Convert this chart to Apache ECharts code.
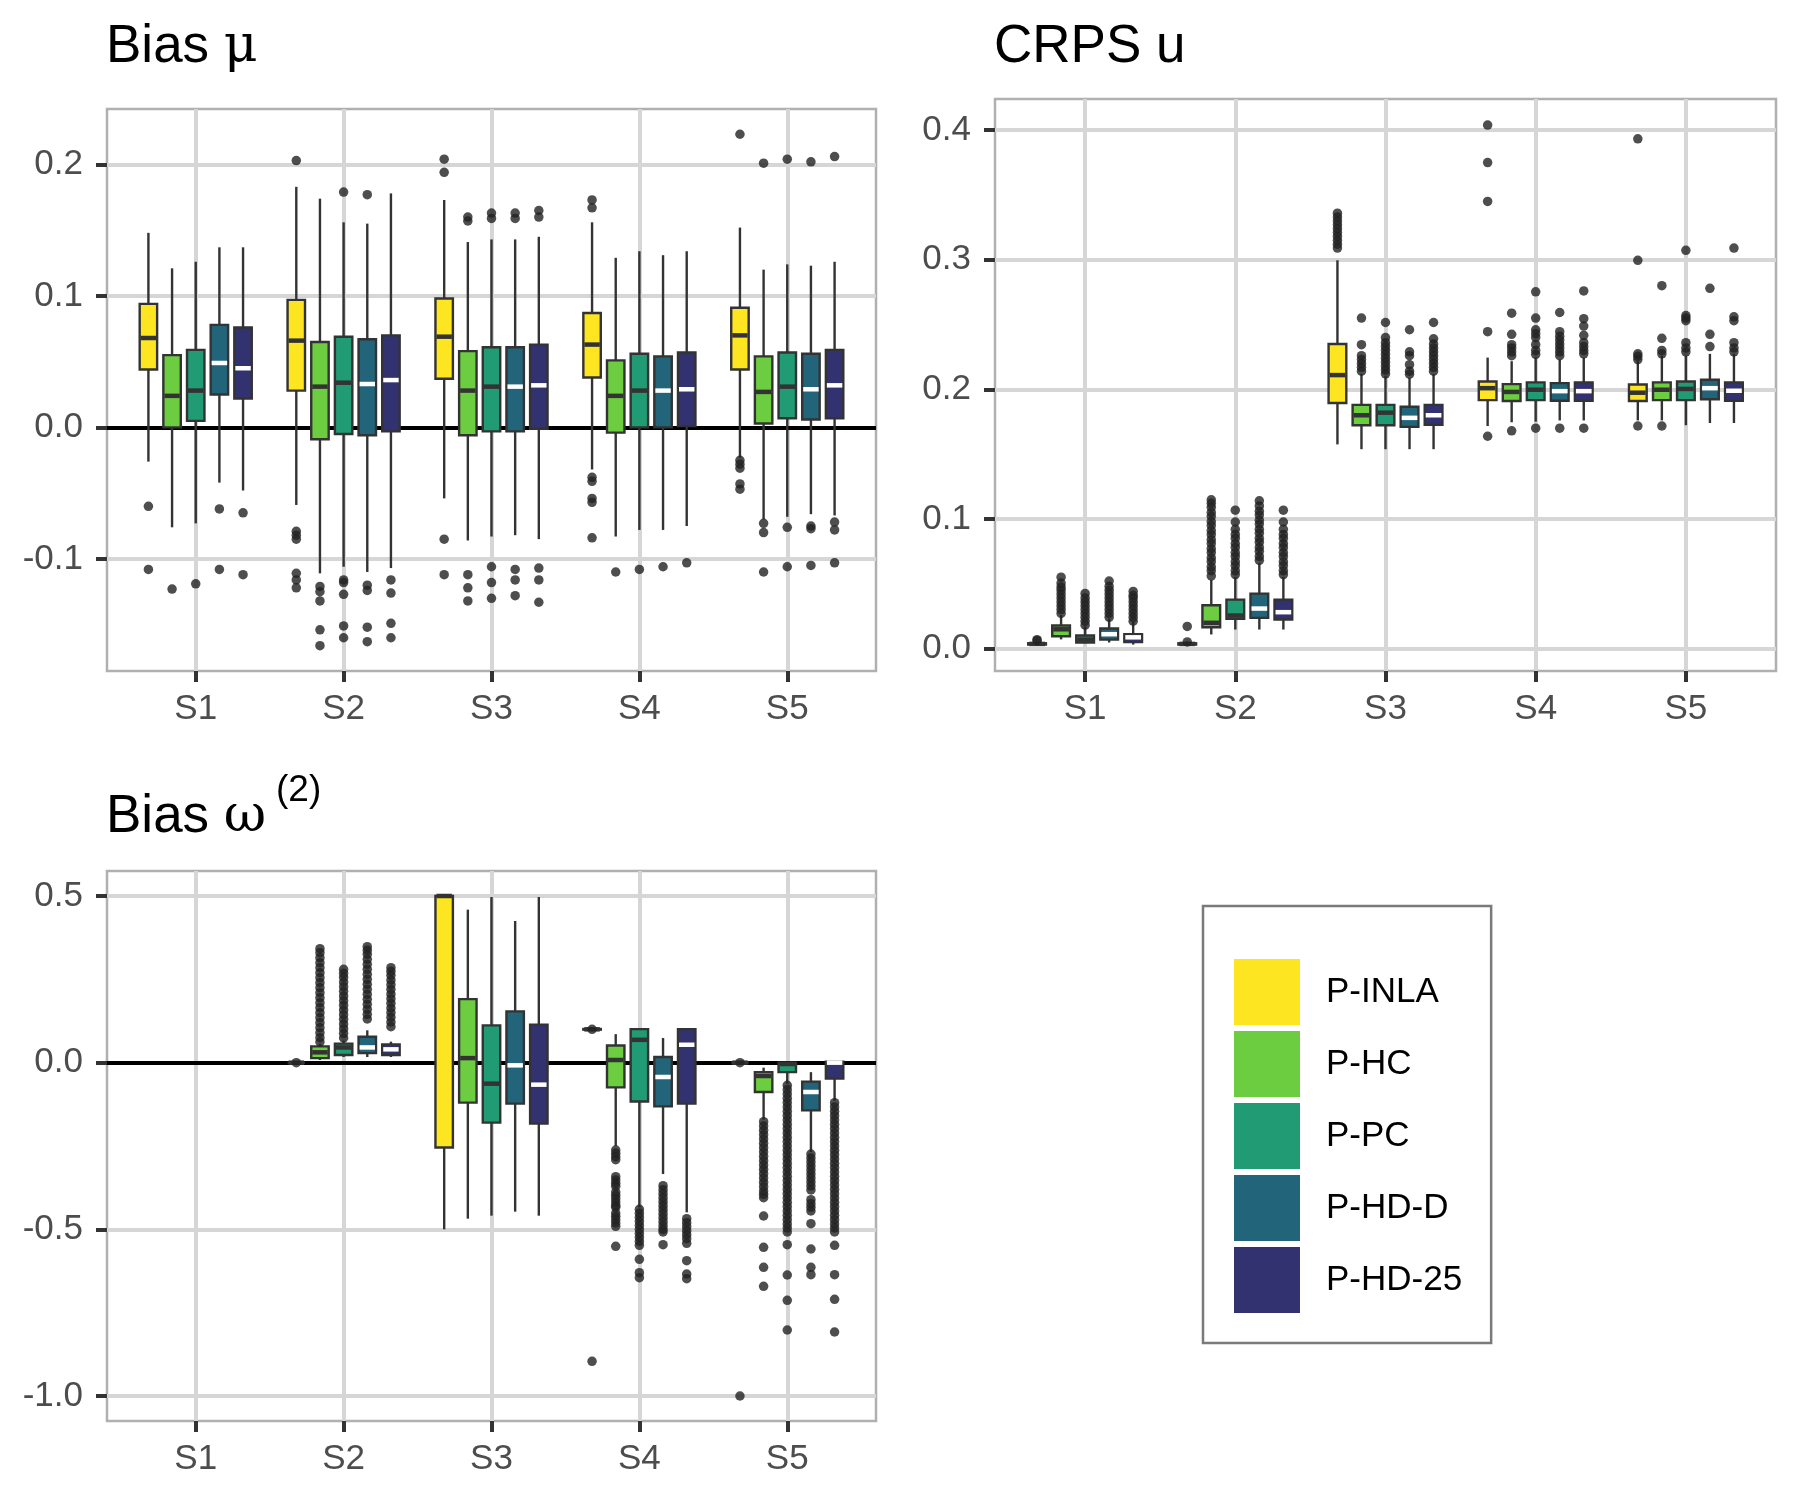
<!DOCTYPE html>
<html>
<head>
<meta charset="utf-8">
<script src="https://cdn.jsdelivr.net/npm/echarts@6/dist/echarts.min.js"></script>
<style>
  html, body { margin: 0; padding: 0; background: #fff; }
  #main { width: 1800px; height: 1500px; }
</style>
</head>
<body>
<div id="main"></div>
<script>
// categories and methods
var scenarios = ['S1', 'S2', 'S3', 'S4', 'S5'];
var methods = ['P-INLA', 'P-HC', 'P-PC', 'P-HD-D', 'P-HD-25'];
var methodColors = ['#FDE621', '#6CCD40', '#209B73', '#22647A', '#333270'];
var medianColors = ['#333333', '#333333', '#333333', '#ffffff', '#ffffff'];

// tick values
var biasMuTicks = [-0.1, 0, 0.1, 0.2];
var crpsTicks = [0, 0.1, 0.2, 0.3, 0.4];
var omegaTicks = [-1, -0.5, 0, 0.5];

// box stats: one row per method, one entry per scenario
// [lower whisker, Q1, median, Q3, upper whisker]
var biasMuBox = [
  [[-0.026, 0.044, 0.068, 0.094, 0.148], [-0.059, 0.028, 0.066, 0.097, 0.183], [-0.054, 0.037, 0.069, 0.098, 0.173], [-0.032, 0.038, 0.063, 0.087, 0.156], [-0.023, 0.044, 0.070, 0.091, 0.152]],
  [[-0.076, 0.000, 0.024, 0.055, 0.121], [-0.111, -0.009, 0.031, 0.065, 0.174], [-0.086, -0.006, 0.028, 0.058, 0.141], [-0.083, -0.004, 0.024, 0.051, 0.129], [-0.070, 0.003, 0.027, 0.054, 0.120]],
  [[-0.073, 0.005, 0.028, 0.059, 0.126], [-0.106, -0.005, 0.034, 0.069, 0.156], [-0.083, -0.003, 0.031, 0.061, 0.143], [-0.078, 0.000, 0.028, 0.056, 0.134], [-0.068, 0.007, 0.031, 0.057, 0.124]],
  [[-0.042, 0.025, 0.049, 0.078, 0.137], [-0.110, -0.006, 0.033, 0.067, 0.155], [-0.082, -0.003, 0.031, 0.061, 0.143], [-0.078, 0.000, 0.028, 0.054, 0.131], [-0.066, 0.006, 0.029, 0.056, 0.123]],
  [[-0.048, 0.022, 0.045, 0.076, 0.137], [-0.107, -0.003, 0.036, 0.070, 0.178], [-0.085, -0.001, 0.032, 0.063, 0.145], [-0.075, 0.001, 0.029, 0.057, 0.134], [-0.067, 0.007, 0.032, 0.059, 0.126]]
];
var biasMuOut = [
  [[-0.060, -0.108], [0.203, -0.079, -0.082, -0.085, -0.111, -0.116, -0.122], [0.204, 0.194, -0.085, -0.112], [0.173, 0.167, -0.038, -0.041, -0.054, -0.057, -0.084], [0.223, -0.025, -0.028, -0.031, -0.043, -0.047]],
  [[-0.123], [-0.121, -0.125, -0.132, -0.154, -0.166], [0.160, 0.157, -0.112, -0.122, -0.132], [-0.110], [0.201, -0.073, -0.080, -0.110]],
  [[-0.119], [0.179, -0.116, -0.118, -0.127, -0.151, -0.160], [0.163, 0.159, -0.106, -0.118, -0.130], [-0.108], [0.204, -0.076, -0.106]],
  [[-0.062, -0.108], [0.177, -0.120, -0.124, -0.152, -0.163], [0.163, 0.159, -0.108, -0.116, -0.128], [-0.106], [0.202, -0.075, -0.077, -0.105]],
  [[-0.065, -0.112], [-0.116, -0.126, -0.149, -0.160], [0.165, 0.160, -0.107, -0.116, -0.133], [-0.103], [0.206, -0.072, -0.078, -0.103]]
];

var crpsBox = [
  [[0.0028, 0.003, 0.0035, 0.004, 0.0055], [0.0028, 0.003, 0.0035, 0.004, 0.0055], [0.1575, 0.1894, 0.211, 0.235, 0.2996], [0.1717, 0.1917, 0.2009, 0.206, 0.2245], [0.176, 0.191, 0.1974, 0.2037, 0.2217]],
  [[0.007, 0.0094, 0.0148, 0.0177, 0.0257], [0.0108, 0.0164, 0.0198, 0.0333, 0.053], [0.1538, 0.1723, 0.180, 0.188, 0.212], [0.1746, 0.191, 0.198, 0.204, 0.2217], [0.176, 0.1917, 0.1997, 0.2054, 0.226]],
  [[0.004, 0.0046, 0.0068, 0.010, 0.017], [0.0146, 0.0228, 0.0254, 0.0377, 0.055], [0.1538, 0.1723, 0.182, 0.188, 0.210], [0.175, 0.1917, 0.1997, 0.2054, 0.2245], [0.1723, 0.1917, 0.2003, 0.206, 0.226]],
  [[0.0046, 0.0068, 0.011, 0.0154, 0.023], [0.0146, 0.0236, 0.0308, 0.0423, 0.066], [0.1538, 0.171, 0.178, 0.1866, 0.209], [0.176, 0.1912, 0.1986, 0.2048, 0.223], [0.174, 0.1923, 0.2009, 0.2074, 0.2274]],
  [[0.003, 0.0049, 0.0086, 0.0111, 0.0205], [0.0146, 0.0223, 0.028, 0.0377, 0.055], [0.1538, 0.1726, 0.180, 0.188, 0.2117], [0.176, 0.1912, 0.1986, 0.2054, 0.2245], [0.174, 0.1912, 0.1989, 0.2054, 0.2274]]
];
var crpsOut = [
  [[0.006, 0.0068], [0.005, 0.017], [0.309, 0.312, 0.315, 0.318, 0.321, 0.324, 0.327, 0.330, 0.333, 0.336], [0.1638, 0.2445, 0.345, 0.375, 0.404], [0.1717, 0.223, 0.2255, 0.2274, 0.2996, 0.3934]],
  [[0.027, 0.030, 0.033, 0.036, 0.039, 0.042, 0.045, 0.0475, 0.0505, 0.055], [0.056, 0.060, 0.063, 0.067, 0.070, 0.074, 0.077, 0.081, 0.084, 0.088, 0.091, 0.095, 0.098, 0.102, 0.105, 0.109, 0.112, 0.1147], [0.214, 0.217, 0.220, 0.223, 0.226, 0.2345, 0.255], [0.168, 0.226, 0.229, 0.232, 0.2345, 0.2425, 0.2588], [0.1717, 0.2274, 0.230, 0.2394, 0.280]],
  [[0.018, 0.021, 0.024, 0.027, 0.030, 0.033, 0.036, 0.039, 0.0425], [0.057, 0.060, 0.064, 0.067, 0.071, 0.074, 0.078, 0.081, 0.085, 0.088, 0.092, 0.0976, 0.1067], [0.212, 0.215, 0.218, 0.221, 0.224, 0.227, 0.230, 0.233, 0.236, 0.240, 0.2516], [0.170, 0.227, 0.230, 0.2345, 0.240, 0.243, 0.246, 0.255, 0.2753], [0.229, 0.232, 0.236, 0.253, 0.255, 0.257, 0.3073]],
  [[0.024, 0.027, 0.030, 0.033, 0.036, 0.039, 0.042, 0.045, 0.048, 0.052], [0.068, 0.071, 0.075, 0.078, 0.082, 0.085, 0.089, 0.092, 0.096, 0.099, 0.103, 0.106, 0.110, 0.114], [0.2117, 0.214, 0.219, 0.226, 0.229, 0.246], [0.170, 0.226, 0.229, 0.232, 0.235, 0.238, 0.241, 0.2445, 0.2593], [0.233, 0.2425, 0.278]],
  [[0.021, 0.024, 0.027, 0.030, 0.033, 0.036, 0.039, 0.041, 0.044], [0.057, 0.060, 0.064, 0.067, 0.071, 0.074, 0.078, 0.081, 0.085, 0.088, 0.092, 0.0976, 0.1067], [0.214, 0.217, 0.220, 0.223, 0.226, 0.229, 0.232, 0.235, 0.239, 0.2516], [0.170, 0.2274, 0.230, 0.233, 0.236, 0.2417, 0.2488, 0.2545, 0.276], [0.229, 0.232, 0.236, 0.253, 0.256, 0.309]]
];

var omegaBox = [
  [null, [0, 0, 0, 0, 0], [-0.5, -0.2546, 0.5, 0.5, 0.5], [0.097, 0.099, 0.100, 0.101, 0.102], [0, 0, 0, 0, 0]],
  [null, [0.008, 0.0137, 0.031, 0.049, 0.057], [-0.468, -0.12, 0.0137, 0.1906, 0.459], [-0.25, -0.074, 0.008, 0.0514, 0.0856], [-0.171, -0.088, -0.040, -0.0285, -0.015]],
  [null, [0.017, 0.0228, 0.0457, 0.057, 0.066], [-0.459, -0.180, -0.063, 0.112, 0.497], [-0.434, -0.1164, 0.0685, 0.1005, 0.1005], [-0.063, -0.0285, -0.004, 0.0, 0.0]],
  [null, [0.017, 0.0285, 0.0457, 0.0776, 0.097], [-0.447, -0.123, -0.008, 0.154, 0.425], [-0.334, -0.131, -0.043, 0.017, 0.074], [-0.268, -0.143, -0.088, -0.057, -0.0285]],
  [null, [0.017, 0.0228, 0.040, 0.0548, 0.063], [-0.459, -0.183, -0.066, 0.114, 0.497], [-0.449, -0.123, 0.0537, 0.1005, 0.1005], [-0.114, -0.048, 0.0, 0.003, 0.003]]
];
var omegaOut = [
  [[], [0], [], [0.1, -0.896], [0, -1.0]],
  [[], [0.062, 0.075, 0.09, 0.105, 0.12, 0.135, 0.15, 0.165, 0.18, 0.195, 0.21, 0.225, 0.24, 0.255, 0.27, 0.285, 0.30, 0.315, 0.33, 0.342], [],
    [-0.262, -0.272, -0.282, -0.291, -0.342, -0.352, -0.362, -0.371, -0.388, -0.398, -0.408, -0.418, -0.428, -0.434, -0.451, -0.461, -0.471, -0.481, -0.491, -0.551],
    [-0.177, -0.19, -0.203, -0.216, -0.229, -0.242, -0.255, -0.268, -0.281, -0.294, -0.307, -0.32, -0.333, -0.346, -0.359, -0.372, -0.385, -0.395, -0.405, -0.46, -0.554, -0.614, -0.671]],
  [[], [0.074, 0.088, 0.102, 0.116, 0.130, 0.144, 0.158, 0.172, 0.186, 0.200, 0.214, 0.228, 0.242, 0.256, 0.268, 0.280], [],
    [-0.44, -0.452, -0.464, -0.476, -0.488, -0.50, -0.512, -0.524, -0.536, -0.548, -0.59, -0.63, -0.645],
    [-0.068, -0.081, -0.094, -0.107, -0.12, -0.133, -0.146, -0.159, -0.172, -0.185, -0.198, -0.211, -0.224, -0.237, -0.25, -0.263, -0.276, -0.289, -0.302, -0.315, -0.328, -0.341, -0.354, -0.367, -0.38, -0.393, -0.406, -0.419, -0.432, -0.445, -0.458, -0.471, -0.484, -0.496, -0.508, -0.546, -0.637, -0.713, -0.802]],
  [[], [0.131, 0.145, 0.16, 0.175, 0.19, 0.205, 0.22, 0.235, 0.25, 0.265, 0.28, 0.295, 0.31, 0.325, 0.337, 0.348], [],
    [-0.369, -0.381, -0.393, -0.405, -0.417, -0.429, -0.441, -0.453, -0.465, -0.477, -0.489, -0.50, -0.508, -0.546],
    [-0.274, -0.286, -0.298, -0.31, -0.322, -0.334, -0.346, -0.358, -0.37, -0.382, -0.411, -0.423, -0.434, -0.445, -0.483, -0.559, -0.614, -0.636]],
  [[], [0.108, 0.122, 0.136, 0.15, 0.164, 0.178, 0.192, 0.206, 0.22, 0.234, 0.248, 0.262, 0.274, 0.285], [],
    [-0.468, -0.48, -0.492, -0.504, -0.516, -0.528, -0.542, -0.594, -0.634, -0.648],
    [-0.12, -0.133, -0.146, -0.159, -0.172, -0.185, -0.198, -0.211, -0.224, -0.237, -0.25, -0.263, -0.276, -0.289, -0.302, -0.315, -0.328, -0.341, -0.354, -0.367, -0.38, -0.393, -0.406, -0.419, -0.432, -0.445, -0.458, -0.471, -0.484, -0.496, -0.508, -0.548, -0.636, -0.71, -0.808]]
];

// dodge layout (in category units)
var dodge = [-0.32, -0.16, 0, 0.16, 0.32];
var boxW = 0.118;
var txtFont = 'Liberation Sans';

var myChart = echarts.init(document.getElementById('main'));

function boxSeries(boxes, k, idx) {
    var data = [];
    boxes[k].forEach(function (b, j) {
        if (b) data.push([j + 1].concat(b));
    });
    return {
        type: 'custom',
        name: methods[k],
        xAxisIndex: idx,
        yAxisIndex: idx,
        itemStyle: { color: methodColors[k] },
        encode: { x: 0, y: [1, 2, 3, 4, 5] },
        data: data,
        z: 3,
        renderItem: function (params, api) {
            var xc = api.value(0) + dodge[k];
            var lo = api.coord([xc, api.value(1)]);
            var q1 = api.coord([xc, api.value(2)]);
            var md = api.coord([xc, api.value(3)]);
            var q3 = api.coord([xc, api.value(4)]);
            var hi = api.coord([xc, api.value(5)]);
            var half = api.size([boxW, 0])[0] / 2;
            var stroke = { stroke: '#333333', lineWidth: 2.4 };
            return {
                type: 'group',
                children: [
                    { type: 'line', shape: { x1: hi[0], y1: hi[1], x2: q3[0], y2: q3[1] }, style: stroke },
                    { type: 'line', shape: { x1: q1[0], y1: q1[1], x2: lo[0], y2: lo[1] }, style: stroke },
                    { type: 'rect', shape: { x: q3[0] - half, y: q3[1], width: half * 2, height: q1[1] - q3[1] },
                      style: { fill: methodColors[k], stroke: '#333333', lineWidth: 2.4 } },
                    { type: 'line', shape: { x1: md[0] - half + 1, y1: md[1], x2: md[0] + half - 1, y2: md[1] },
                      style: { stroke: medianColors[k], lineWidth: 4.5 } }
                ]
            };
        }
    };
}

function outlierSeries(outs, idx) {
    var pts = [];
    outs.forEach(function (row, k) {
        row.forEach(function (vals, j) {
            vals.forEach(function (v) { pts.push([j + 1 + dodge[k], v]); });
        });
    });
    return {
        type: 'scatter',
        xAxisIndex: idx,
        yAxisIndex: idx,
        symbol: 'circle',
        symbolSize: 9.5,
        itemStyle: { color: '#222222' },
        data: pts,
        silent: true,
        z: 4
    };
}

function zeroLine(idx) {
    return {
        type: 'line',
        xAxisIndex: idx,
        yAxisIndex: idx,
        data: [],
        silent: true,
        markLine: {
            silent: true,
            symbol: 'none',
            z: 2,
            label: { show: false },
            lineStyle: { color: '#000000', width: 4, type: 'solid' },
            data: [{ yAxis: 0 }]
        }
    };
}

function xAxisOf(idx) {
    return {
        type: 'value', gridIndex: idx, min: 0.4, max: 5.6,
        axisLine: { show: false, onZero: false },
        axisTick: { show: true, length: 11, customValues: [1, 2, 3, 4, 5], lineStyle: { color: '#333333', width: 4 } },
        axisLabel: {
            customValues: [1, 2, 3, 4, 5], margin: 21,
            fontFamily: txtFont, fontSize: 35, color: '#4d4d4d',
            formatter: function (v) { return scenarios[Math.round(v) - 1]; }
        },
        splitLine: { show: true, lineStyle: { color: '#d6d6d6', width: 4 } }
    };
}

function yAxisOf(idx, lo, hi, ticks) {
    return {
        type: 'value', gridIndex: idx, min: lo, max: hi,
        axisLine: { show: false, onZero: false },
        axisTick: { show: true, length: 11, customValues: ticks, lineStyle: { color: '#333333', width: 4 } },
        axisLabel: {
            customValues: ticks, margin: 24,
            fontFamily: txtFont, fontSize: 35, color: '#4d4d4d',
            formatter: function (v) { return v.toFixed(1); }
        },
        splitLine: { show: true, lineStyle: { color: '#d6d6d6', width: 4 } }
    };
}

var gridStyle = { show: true, backgroundColor: '#ffffff', borderColor: '#b0b0b0', borderWidth: 2.5 };

var series = [zeroLine(0), zeroLine(2)];
for (var k = 0; k < methods.length; k++) {
    series.push(boxSeries(biasMuBox, k, 0));
    series.push(boxSeries(crpsBox, k, 1));
    series.push(boxSeries(omegaBox, k, 2));
}
series.push(outlierSeries(biasMuOut, 0));
series.push(outlierSeries(crpsOut, 1));
series.push(outlierSeries(omegaOut, 2));

var titleRich = {
    a: { fontFamily: txtFont, fontSize: 53, fontWeight: 'normal', lineHeight: 60, color: '#000' },
    g: { fontFamily: 'DejaVu Serif', fontSize: 52, fontWeight: 'normal', lineHeight: 60, color: '#000' }
};

option = {
    animation: false,
    backgroundColor: '#ffffff',
    title: [
        { text: '{a|Bias }{g|μ}', left: 106, top: 17, padding: 0, textStyle: { fontWeight: 'normal', rich: titleRich } },
        { text: '{a|CRPS u}', left: 994, top: 17, padding: 0, textStyle: { fontWeight: 'normal', rich: titleRich } },
        { text: '{a|Bias }{g|ω}', left: 106, top: 787, padding: 0, textStyle: { fontWeight: 'normal', rich: titleRich } },
        { text: '(2)', left: 276, top: 771, padding: 0,
          textStyle: { fontFamily: txtFont, fontSize: 37, lineHeight: 40, fontWeight: 'normal', color: '#000' } }
    ],
    legend: {
        orient: 'vertical',
        left: 1203,
        top: 906,
        padding: [53, 29, 30, 31],
        itemWidth: 66,
        itemHeight: 66,
        itemGap: 6,
        borderColor: '#7a7a7a',
        borderWidth: 2.5,
        selectedMode: false,
        textStyle: { fontFamily: txtFont, fontSize: 35, color: '#000', padding: [0, 0, 0, 21] },
        data: methods.map(function (m, i) {
            return { name: m, icon: 'rect', itemStyle: { color: methodColors[i], borderWidth: 0 } };
        })
    },
    grid: [
        Object.assign({ left: 107, top: 109, width: 769, height: 562 }, gridStyle),
        Object.assign({ left: 995, top: 99, width: 781, height: 572 }, gridStyle),
        Object.assign({ left: 107, top: 871, width: 769, height: 550 }, gridStyle)
    ],
    xAxis: [xAxisOf(0), xAxisOf(1), xAxisOf(2)],
    yAxis: [
        yAxisOf(0, -0.1853, 0.2422, biasMuTicks),
        yAxisOf(1, -0.0174, 0.4241, crpsTicks),
        yAxisOf(2, -1.075, 0.575, omegaTicks)
    ],
    series: series
};

if (option && typeof option === 'object') {
    myChart.setOption(option, true);
}
</script>
</body>
</html>
